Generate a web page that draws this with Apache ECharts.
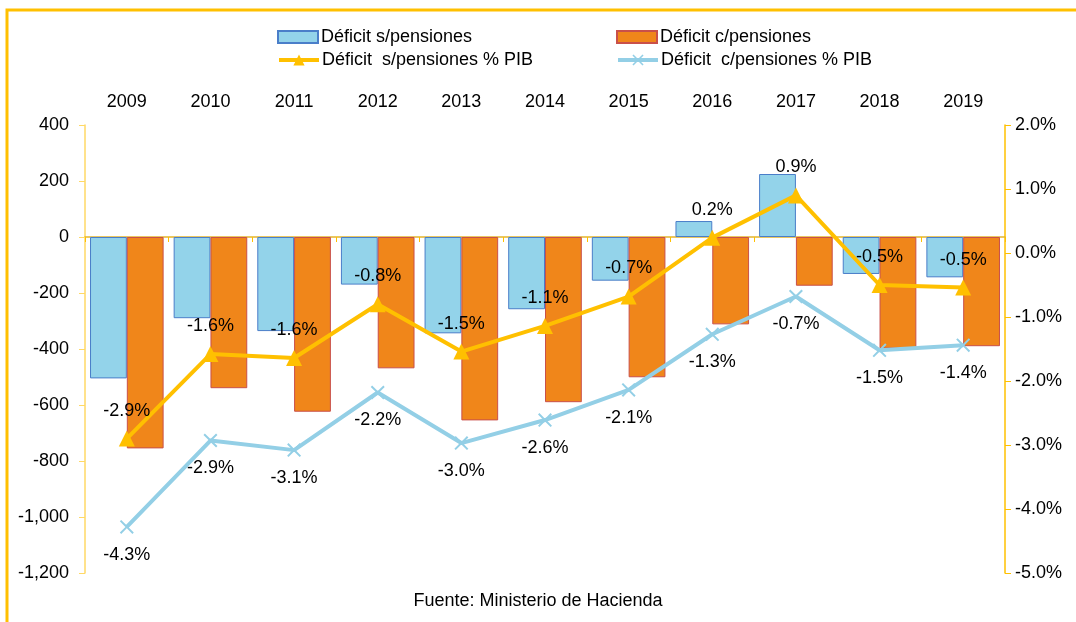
<!DOCTYPE html>
<html>
<head>
<meta charset="utf-8">
<script src="https://cdn.jsdelivr.net/npm/echarts@6/dist/echarts.min.js"></script>
<style>
  html, body { margin: 0; padding: 0; background: #fff; }
  #chart { width: 1076px; height: 622px; }
</style>
</head>
<body>
<div id="chart"></div>
<script>
const anos = ['2009', '2010', '2011', '2012', '2013', '2014', '2015', '2016', '2017', '2018', '2019']

// millones
const deficitSinPensiones = [-505, -290, -336, -170, -344, -258, -156, 57, 225, -132, -144]
const deficitConPensiones = [-755, -540, -624, -469, -655, -590, -501, -312, -174, -398, -390]

// % del PIB
const pibSinPensiones = [-2.9, -1.58, -1.64, -0.8, -1.54, -1.14, -0.68, 0.24, 0.9, -0.5, -0.54]
const pibConPensiones = [-4.28, -2.93, -3.08, -2.18, -2.97, -2.61, -2.14, -1.27, -0.68, -1.52, -1.44]

const fuente = 'Liberation Sans'
const tam = 18
const oro = '#ffc000'
const celeste = '#93d3ea'
const naranja = '#f0861a'
const lineaCeleste = '#93cfe6'

const marcaX = 'path://M0,1L1,0L5,4L9,0L10,1L6,5L10,9L9,10L5,6L1,10L0,9L4,5Z'

const chart = echarts.init(document.getElementById('chart'))

const leyenda = (nombre, left, top, esLinea) => ({
  data: [nombre],
  left: left,
  top: top,
  padding: 0,
  icon: esLinea ? undefined : 'rect',
  itemWidth: 40,
  itemHeight: esLinea ? 14 : 12,
  itemGap: 0,
  lineStyle: esLinea ? { width: 4 } : undefined,
  textStyle: { fontFamily: fuente, fontSize: tam, color: '#000', padding: [0, 0, 0, -2] },
})

const miles = (v) => v.toLocaleString('en-US')

chart.setOption({
  animation: false,
  textStyle: { fontFamily: fuente },
  legend: [
    leyenda('Déficit s/pensiones', 277, 28, false),
    leyenda('Déficit c/pensiones', 616, 28, false),
    leyenda('Déficit  s/pensiones % PIB', 277, 51, true),
    leyenda('Déficit  c/pensiones % PIB', 616, 51, true),
  ],
  grid: {
    left: 85,
    right: 71,
    top: 125,
    bottom: 49,
  },
  xAxis: [
    {
      type: 'category',
      position: 'top',
      data: anos,
      axisLine: { show: false, onZero: false },
      axisTick: { show: false },
      axisLabel: { fontSize: tam, color: '#000', margin: 14 },
    },
    {
      type: 'category',
      position: 'bottom',
      data: anos,
      axisLine: { onZero: true, onZeroAxisIndex: 0, lineStyle: { color: '#e3b52c', width: 1.5 } },
      axisTick: { show: true, length: 5, lineStyle: { color: oro } },
      axisLabel: { show: false },
    },
  ],
  yAxis: [
    {
      type: 'value',
      min: -1200,
      max: 400,
      interval: 200,
      splitLine: { show: false },
      axisLine: { show: true, lineStyle: { color: '#ffd966', width: 1.5 } },
      axisTick: { show: true, length: 6, lineStyle: { color: '#ffd966' } },
      axisLabel: {
        fontSize: tam,
        color: '#000',
        margin: 16,
        formatter: (v) => miles(v),
      },
    },
    {
      type: 'value',
      min: -5,
      max: 2,
      interval: 1,
      splitLine: { show: false },
      axisLine: { show: true, lineStyle: { color: oro, width: 1.5 } },
      axisTick: { show: true, length: 6, lineStyle: { color: oro } },
      axisLabel: {
        fontSize: tam,
        color: '#000',
        margin: 10,
        formatter: (v) => v.toFixed(1) + '%',
      },
    },
  ],
  graphic: [
    {
      type: 'polyline',
      shape: { points: [[7, 622], [7, 10], [1076, 10]] },
      style: { stroke: oro, lineWidth: 3, fill: null },
      silent: true,
    },
    {
      type: 'text',
      left: 'center',
      top: 592,
      style: { text: 'Fuente: Ministerio de Hacienda', font: '18px "Liberation Sans"', fill: '#000' },
    },
  ],
  series: [
    {
      name: 'Déficit s/pensiones',
      type: 'bar',
      data: deficitSinPensiones,
      barGap: '0%',
      barCategoryGap: '12%',
      itemStyle: { color: celeste, borderColor: '#4a7ec9', borderWidth: 1 },
    },
    {
      name: 'Déficit c/pensiones',
      type: 'bar',
      data: deficitConPensiones,
      itemStyle: { color: naranja, borderColor: '#c9504a', borderWidth: 1 },
    },
    {
      name: 'Déficit  s/pensiones % PIB',
      type: 'line',
      yAxisIndex: 1,
      data: pibSinPensiones,
      symbol: 'triangle',
      symbolSize: 16,
      z: 5,
      lineStyle: { color: oro, width: 4 },
      itemStyle: { color: oro },
      label: {
        show: true,
        position: 'top',
        distance: 11,
        fontSize: tam,
        color: '#000',
        formatter: (p) => p.value.toFixed(1) + '%',
      },
    },
    {
      name: 'Déficit  c/pensiones % PIB',
      type: 'line',
      yAxisIndex: 1,
      data: pibConPensiones,
      symbol: marcaX,
      symbolSize: 14,
      z: 4,
      lineStyle: { color: lineaCeleste, width: 4 },
      itemStyle: { color: lineaCeleste },
      label: {
        show: true,
        position: 'bottom',
        distance: 12,
        fontSize: tam,
        color: '#000',
        formatter: (p) => p.value.toFixed(1) + '%',
      },
    },
  ],
})
</script>
</body>
</html>
